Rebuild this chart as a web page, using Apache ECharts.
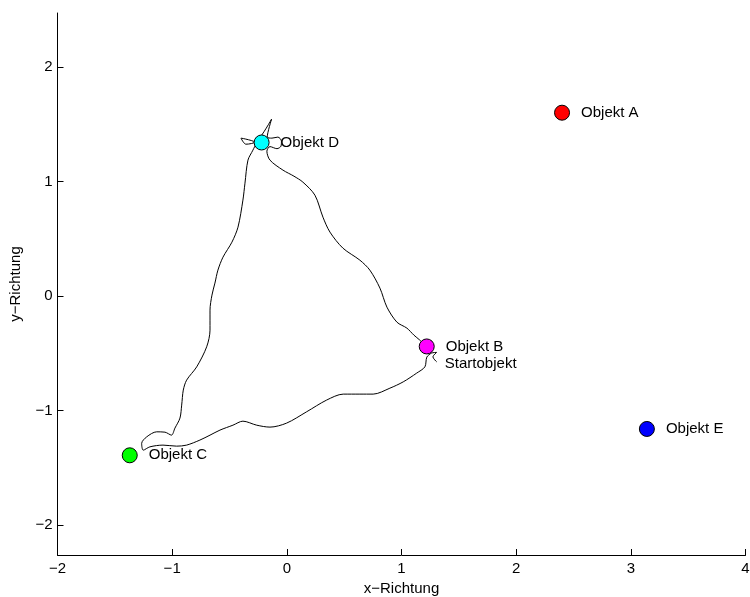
<!DOCTYPE html>
<html>
<head>
<meta charset="utf-8">
<script src="https://cdn.jsdelivr.net/npm/echarts@6/dist/echarts.min.js"></script>
<style>
  html, body { margin: 0; padding: 0; background: #fff; }
  #chart { width: 750px; height: 597px; }
</style>
</head>
<body>
<div id="chart"></div>
<script>
// Trajectory of the search path (x/y in field units), starting below Objekt B
const pathX = [
  1.306, 1.274, 1.306, 1.262, 1.221, 1.204, 1.132, 1.015, 0.899, 0.753,
  0.637, 0.492, 0.347, 0.173, -0.002, -0.147, -0.263, -0.383, -0.470, -0.583,
  -0.670, -0.758, -0.874, -0.961, -1.080, -1.194, -1.252, -1.266, -1.222, -1.135,
  -1.063, -1.006, -0.976, -0.932, -0.917, -0.903, -0.874, -0.786, -0.699, -0.670,
  -0.670, -0.653, -0.627, -0.601, -0.557, -0.479, -0.426, -0.383, -0.365, -0.339,
  -0.296, -0.269, -0.400, -0.357, -0.261, -0.133, -0.171, -0.130, -0.078, -0.047,
  -0.051, -0.086, -0.147, -0.174, -0.147, -0.034, 0.062, 0.140, 0.245, 0.315,
  0.376, 0.489, 0.637, 0.724, 0.812, 0.873, 0.960, 1.047, 1.108, 1.160, 1.221
];
const pathY = [
  -0.574, -0.531, -0.492, -0.498, -0.533, -0.618, -0.673, -0.749, -0.804, -0.856,
  -0.856, -0.856, -0.908, -1.010, -1.109, -1.144, -1.127, -1.092, -1.127, -1.170,
  -1.214, -1.257, -1.301, -1.310, -1.301, -1.316, -1.345, -1.286, -1.229, -1.185,
  -1.188, -1.214, -1.153, -1.065, -0.952, -0.821, -0.734, -0.618, -0.443, -0.298,
  -0.123, 0.008, 0.113, 0.226, 0.339, 0.470, 0.601, 0.837, 0.985, 1.186,
  1.273, 1.334, 1.378, 1.325, 1.352, 1.544, 1.387, 1.378, 1.387, 1.352,
  1.308, 1.286, 1.304, 1.264, 1.186, 1.099, 1.046, 0.994, 0.880, 0.688,
  0.558, 0.418, 0.313, 0.226, 0.069, -0.097, -0.228, -0.280, -0.341, -0.385, -0.442
];

// Objects in the field
const objNames = ['Objekt A', 'Objekt B', 'Objekt C', 'Objekt D', 'Objekt E'];
const objX = [2.40, 1.22, -1.37, -0.22, 3.14];
const objY = [1.60, -0.44, -1.39, 1.34, -1.16];

// Start annotation (text anchor, left edge)
const startText = 'Startobjekt';
const startX = [1.378];
const startY = [-0.594];

// Axis ticks
const xTicks = [-2, -1, 0, 1, 2, 3, 4];
const yTicks = [-2, -1, 0, 1, 2];

const objColors = ['#ff0000', '#ff00ff', '#00ff00', '#00ffff', '#0000ff'];
const FONT = 'Liberation Sans, Arial, Helvetica, sans-serif';
const FS = 15;
const minus = v => String(v).replace('-', '\u2212');

const pathData = pathX.map((x, i) => [x, pathY[i]]);
const objData = objNames.map((n, i) => ({
  name: n,
  value: [objX[i], objY[i]],
  itemStyle: { color: objColors[i] }
}));

const chart = echarts.init(document.getElementById('chart'), null, { renderer: 'canvas' });
chart.setOption({
  animation: false,
  backgroundColor: '#ffffff',
  grid: { left: 57.5, right: 4.5, top: 13, bottom: 42, containLabel: false, outerBoundsMode: 'none' },
  xAxis: {
    type: 'value',
    min: -2, max: 4, interval: 1,
    name: 'x\u2212Richtung',
    nameLocation: 'middle',
    nameGap: 25,
    nameTextStyle: { color: '#000', fontFamily: FONT, fontSize: FS },
    axisLine: { onZero: false, lineStyle: { color: '#000', width: 1 } },
    axisTick: { inside: true, length: 6, lineStyle: { color: '#000' }, customValues: xTicks },
    axisLabel: { color: '#000', fontFamily: FONT, fontSize: FS, margin: 6,
                 customValues: xTicks, formatter: minus },
    splitLine: { show: false }
  },
  yAxis: {
    type: 'value',
    min: -2.26, max: 2.47,
    name: 'y\u2212Richtung',
    nameLocation: 'middle',
    nameRotate: 90,
    nameGap: 34,
    nameTextStyle: { color: '#000', fontFamily: FONT, fontSize: FS },
    axisLine: { show: true, onZero: false, lineStyle: { color: '#000', width: 1 } },
    axisTick: { show: true, inside: true, length: 6, lineStyle: { color: '#000' }, customValues: yTicks },
    axisLabel: { color: '#000', fontFamily: FONT, fontSize: FS, margin: 5,
                 customValues: yTicks, formatter: minus },
    splitLine: { show: false }
  },
  series: [
    {
      type: 'line',
      data: pathData,
      showSymbol: false,
      smooth: 0.3,
      lineStyle: { color: '#000', width: 1 },
      z: 2
    },
    {
      type: 'scatter',
      data: objData,
      symbol: 'circle',
      symbolSize: 15,
      itemStyle: { borderColor: '#000', borderWidth: 1, opacity: 1 },
      label: {
        show: true, position: 'right', distance: 11,
        formatter: p => p.name,
        color: '#000', fontFamily: FONT, fontSize: FS
      },
      z: 3
    },
    {
      type: 'scatter',
      data: startX.map((x, i) => ({ name: startText, value: [x, startY[i]] })),
      symbolSize: 0,
      itemStyle: { opacity: 1 },
      label: {
        show: true, position: 'right', distance: 0,
        formatter: p => p.name,
        color: '#000', fontFamily: FONT, fontSize: FS
      },
      z: 3
    }
  ]
});
</script>
</body>
</html>
